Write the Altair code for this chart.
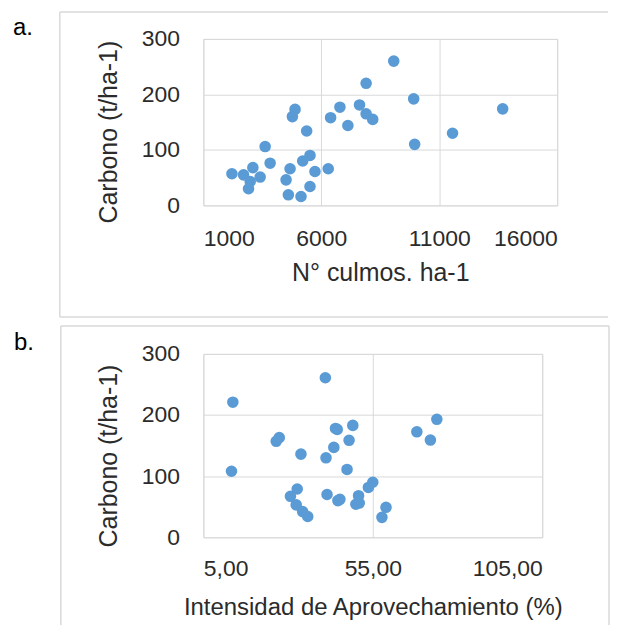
import altair as alt
import pandas as pd

FONT = "Liberation Sans"
BLUE = "#5B9BD5"
GRID = "#d9d9d9"
FRAME = "#d9d9d9"
TXT = "#2b2b2b"

# ---- panel a data ----
culmos = [9071, 7900, 9916, 13690, 6790, 7620, 7900, 8180, 6395, 7127,
          4887, 4775, 5380, 11564, 9958, 3620, 3831, 5521, 5212, 6294,
          5732, 4676, 4507, 5521, 4604, 5140, 2212, 2704, 3099, 3408,
          2986, 2915]
carbono_a = [260, 220, 192, 174, 177, 181, 165, 155, 158, 144,
             173, 160, 134, 130, 110, 106, 76, 90, 80, 66,
             61, 66, 46, 34, 19, 16, 57, 55, 68, 51,
             43, 30]

# ---- panel b data ----
intensidad = [41.0, 13.7, 73.9, 49.1, 44.5, 44.0, 68.0, 72.0, 48.0, 27.4,
              26.5, 43.5, 33.8, 41.2, 47.4, 13.3, 55.0, 53.7, 32.7, 30.7,
              41.5, 44.7, 45.3, 50.8, 50.0, 51.0, 32.4, 34.3, 35.8, 58.9,
              57.7]
carbono_b = [261, 221, 193, 183, 176.5, 178, 172.5, 159, 158.6, 163,
             157, 147, 136, 130, 111, 108, 90, 81.5, 79, 67,
             70, 60, 62, 68, 54, 56, 53, 42, 34, 49,
             32.6]

x_ticks_a = [1000, 6000, 11000, 16000]
x_ticks_b = [5, 55, 105]
y_ticks = [0, 100, 200, 300]

df_a = pd.DataFrame({"culmos": culmos, "carbono": carbono_a})
df_b = pd.DataFrame({"intensidad": intensidad, "carbono": carbono_b})
dummy = pd.DataFrame({"d": [0]})


def hrule(x1, x2, y):
    return alt.Chart(dummy).mark_rule(color=FRAME, strokeWidth=1.5).encode(
        x=alt.value(x1), x2=alt.value(x2), y=alt.value(y))


def vrule(x, y1, y2):
    return alt.Chart(dummy).mark_rule(color=FRAME, strokeWidth=1.5).encode(
        x=alt.value(x), y=alt.value(y1), y2=alt.value(y2))


def label(txt, x, y):
    return alt.Chart(dummy).mark_text(
        text=txt, font=FONT, fontSize=24, align="left",
        baseline="alphabetic", color="#000000").encode(
        x=alt.value(x), y=alt.value(y))


W_A, H_A = 355, 167
W_B, H_B = 340, 184

pts_a = alt.Chart(df_a).mark_circle(size=135, color=BLUE, opacity=1).encode(
    x=alt.X("culmos:Q",
            scale=alt.Scale(domain=[1000, 16000], nice=False, zero=False),
            axis=alt.Axis(values=x_ticks_a, format="d", title="N° culmos. ha-1",
                          labelFontSize=23, labelPadding=22, labelBaseline="top",
                          titleFontSize=25, titleBaseline="alphabetic",
                          titleAlign="center", titleX=W_A / 2, titleY=75)),
    y=alt.Y("carbono:Q",
            scale=alt.Scale(domain=[0, 300], nice=False),
            axis=alt.Axis(values=y_ticks, format="d", title="Carbono (t/ha-1)",
                          labelFontSize=23, labelPadding=24,
                          titleFontSize=25, titleAngle=270, titleAlign="center",
                          titleBaseline="alphabetic", titleX=-87, titleY=93)),
)

chart_a = alt.layer(
    hrule(-144, 406, -27),
    hrule(-144, 406, 279),
    vrule(-144, -27, 279),
    label("a.", -191, -4),
    pts_a,
).properties(width=W_A, height=H_A)

pts_b = alt.Chart(df_b).mark_circle(size=135, color=BLUE, opacity=1).encode(
    x=alt.X("intensidad:Q",
            scale=alt.Scale(domain=[5, 105], nice=False, zero=False),
            axis=alt.Axis(values=x_ticks_b,
                          labelExpr="replace(format(datum.value, '.2f'), '.', ',')",
                          title="Intensidad de Aprovechamiento (%)",
                          labelFontSize=23, labelPadding=20, labelBaseline="top",
                          titleFontSize=24, titleBaseline="alphabetic",
                          titleAlign="center", titleX=W_B / 2, titleY=77)),
    y=alt.Y("carbono:Q",
            scale=alt.Scale(domain=[0, 300], nice=False),
            axis=alt.Axis(values=y_ticks, format="d", title="Carbono (t/ha-1)",
                          labelFontSize=23, labelPadding=24,
                          titleFontSize=25, titleAngle=270, titleAlign="center",
                          titleBaseline="alphabetic", titleX=-87, titleY=102)),
)

chart_b = alt.layer(
    hrule(-143, 407, -28),
    vrule(-143, -28, 272),
    vrule(407, -28, 272),
    label("b.", -190, -4),
    pts_b,
).properties(width=W_B, height=H_B)

chart = alt.vconcat(chart_a, chart_b, spacing=5).properties(
    padding={"left": 4, "top": 1, "right": 0, "bottom": 0}
).configure_view(
    stroke=GRID, strokeWidth=1
).configure_axis(
    domain=False, ticks=False, grid=True, gridColor=GRID, gridWidth=1,
    labelFont=FONT, titleFont=FONT, labelColor=TXT, titleColor=TXT,
    titleFontWeight="normal"
)

chart.save("out.html", embed_options={"renderer": "svg", "actions": False})
